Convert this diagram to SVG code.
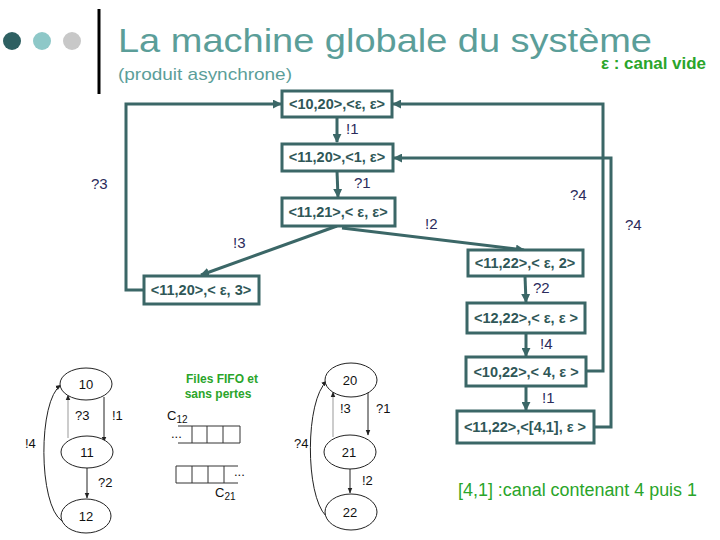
<svg xmlns="http://www.w3.org/2000/svg" width="720" height="540" viewBox="0 0 720 540">
<style>
.box{fill:#fff;stroke:#3b6767;stroke-width:3}
.bt{font-family:"Liberation Sans",Arial,sans-serif;font-weight:bold;font-size:14.5px;fill:#2f5757;text-anchor:middle}
.lbl{font-family:"Liberation Sans",Arial,sans-serif;font-size:15px;fill:#2b2b5c}
.con{fill:none;stroke:#3b6767;stroke-width:3}
.thin{fill:none;stroke:#222;stroke-width:1}
.thing{fill:none;stroke:#999;stroke-width:1}
.ell{fill:#fff;stroke:#222;stroke-width:1}
.st{font-family:"Liberation Sans",Arial,sans-serif;font-size:13px;fill:#111;text-anchor:middle}
.sl{font-family:"Liberation Sans",Arial,sans-serif;font-size:13px;fill:#111}
.grn{font-family:"Liberation Sans",Arial,sans-serif;fill:#2aa52a}
</style>
<defs>
<marker id="ah" viewBox="0 0 10 10" refX="9" refY="5" markerWidth="3" markerHeight="3" orient="auto" markerUnits="strokeWidth">
<path d="M0,0 L10,5 L0,10 z" fill="#3b6767"/>
</marker>
<marker id="as" viewBox="0 0 10 10" refX="9" refY="5" markerWidth="6" markerHeight="6" orient="auto" markerUnits="strokeWidth">
<path d="M0,1 L10,5 L0,9 z" fill="#222"/>
</marker>
</defs>
<rect width="720" height="540" fill="#fff"/>

<!-- header -->
<circle cx="12" cy="41" r="9" fill="#2e6062"/>
<circle cx="42" cy="41" r="9" fill="#8ec8c8"/>
<circle cx="72" cy="41" r="9" fill="#c8c8c8"/>
<line x1="99" y1="9" x2="99" y2="94" stroke="#000" stroke-width="3"/>
<text x="118" y="52" font-family="Liberation Sans,Arial,sans-serif" font-size="34" fill="#5b9e99" textLength="534" lengthAdjust="spacingAndGlyphs">La machine globale du système</text>
<text x="118" y="80" font-family="Liberation Sans,Arial,sans-serif" font-size="17" fill="#5b9e99" textLength="174" lengthAdjust="spacingAndGlyphs">(produit asynchrone)</text>
<text x="601" y="69" class="grn" font-size="16" font-weight="bold" textLength="105" lengthAdjust="spacingAndGlyphs">ε : canal vide</text>

<!-- connectors -->
<g id="connectors">
<path class="con" d="M144,290 H126 V104 H281" marker-end="url(#ah)"/>
<path class="con" d="M337,117 V142" marker-end="url(#ah)"/>
<path class="con" d="M337,171 L338,197" marker-end="url(#ah)"/>
<path class="con" d="M337,226 L201,275" marker-end="url(#ah)"/>
<path class="con" d="M342,228 L524,250" marker-end="url(#ah)"/>
<path class="con" d="M525,276 L526,302" marker-end="url(#ah)"/>
<path class="con" d="M526,333 V356" marker-end="url(#ah)"/>
<path class="con" d="M526,386 V410" marker-end="url(#ah)"/>
<path class="con" d="M586,371 H603 V104 H393" marker-end="url(#ah)"/>
<path class="con" d="M594,427 H611 V158 H394" marker-end="url(#ah)"/>
<text class="lbl" x="346" y="134">!1</text>
<text class="lbl" x="354" y="188">?1</text>
<text class="lbl" x="91" y="189">?3</text>
<text class="lbl" x="233" y="248">!3</text>
<text class="lbl" x="425" y="229">!2</text>
<text class="lbl" x="570" y="200">?4</text>
<text class="lbl" x="625" y="230">?4</text>
<text class="lbl" x="533" y="293">?2</text>
<text class="lbl" x="540" y="349">!4</text>
<text class="lbl" x="542" y="403">!1</text>
</g>

<g id="n1"><rect class="box" x="282" y="91" width="110" height="26"/><text class="bt" x="337" y="109">&lt;10,20&gt;,&lt;ε, ε&gt;</text></g>
<g id="n2"><rect class="box" x="282" y="144" width="111" height="27"/><text class="bt" x="337" y="162">&lt;11,20&gt;,&lt;1, ε&gt;</text></g>
<g id="n3"><rect class="box" x="282" y="198" width="113" height="28"/><text class="bt" x="338" y="217">&lt;11,21&gt;,&lt; ε, ε&gt;</text></g>
<g id="n4"><rect class="box" x="144" y="276" width="115" height="28"/><text class="bt" x="201" y="295">&lt;11,20&gt;,&lt; ε, 3&gt;</text></g>
<g id="n5"><rect class="box" x="468" y="250" width="115" height="26"/><text class="bt" x="525" y="268">&lt;11,22&gt;,&lt; ε, 2&gt;</text></g>
<g id="n6"><rect class="box" x="467" y="303" width="118" height="30"/><text class="bt" x="526" y="323">&lt;12,22&gt;,&lt; ε, ε &gt;</text></g>
<g id="n7"><rect class="box" x="466" y="357" width="120" height="29"/><text class="bt" x="526" y="377">&lt;10,22&gt;,&lt; 4, ε &gt;</text></g>
<g id="n8"><rect class="box" x="457" y="411" width="137" height="32"/><text class="bt" x="525" y="432">&lt;11,22&gt;,&lt;[4,1], ε &gt;</text></g>

<!-- automaton 1 -->
<g id="a1">
<path class="thing" d="M68,438 V395" marker-end="url(#as)"/>
<path class="thin" d="M104,397 V442" marker-end="url(#as)"/>
<path class="thin" d="M87,468 V498" marker-end="url(#as)"/>
<path class="thin" d="M62,521 C38,505 38,400 61,385" marker-end="url(#as)"/>
<ellipse class="ell" cx="86" cy="384" rx="26" ry="16"/>
<ellipse class="ell" cx="87" cy="452" rx="26" ry="16"/>
<ellipse class="ell" cx="86" cy="516" rx="25" ry="17"/>
<text class="st" x="86" y="389">10</text>
<text class="st" x="87" y="457">11</text>
<text class="st" x="86" y="521">12</text>
<text class="sl" x="75" y="420">?3</text>
<text class="sl" x="112" y="420">!1</text>
<text class="sl" x="98" y="487">?2</text>
<text class="sl" x="25" y="448">!4</text>
</g>

<!-- FIFO -->
<g id="fifo">
<text class="grn" x="222" y="383" font-size="12" font-weight="bold" fill="#44b844" text-anchor="middle">Files FIFO et</text>
<text class="grn" x="218" y="398" font-size="12" font-weight="bold" fill="#44b844" text-anchor="middle">sans pertes</text>
<text class="sl" x="167" y="420" font-size="13">C<tspan font-size="10" dy="3">12</tspan></text>
<path d="M178,426 H240 M178,443 H240 M192,426 V443 M207,426 V443 M223,426 V443 M240,426 V443" stroke="#333" stroke-width="1" fill="none"/>
<text class="sl" x="171" y="438" font-size="12">...</text>
<path d="M176,466 H238 M176,483 H238 M176,466 V483 M192,466 V483 M208,466 V483 M224,466 V483" stroke="#333" stroke-width="1" fill="none"/>
<text class="sl" x="234" y="476" font-size="12">...</text>
<text class="sl" x="215" y="497" font-size="13">C<tspan font-size="10" dy="3">21</tspan></text>
</g>

<!-- automaton 2 -->
<g id="a2">
<path class="thing" d="M333,437 V392" marker-end="url(#as)"/>
<path class="thin" d="M368,392 V435" marker-end="url(#as)"/>
<path class="thin" d="M350,468 V493" marker-end="url(#as)"/>
<path class="thin" d="M326,516 C305,495 305,400 327,381" marker-end="url(#as)"/>
<ellipse class="ell" cx="351" cy="380" rx="26" ry="17"/>
<ellipse class="ell" cx="350" cy="452" rx="26" ry="17"/>
<ellipse class="ell" cx="351" cy="512" rx="26" ry="18"/>
<text class="st" x="350" y="385">20</text>
<text class="st" x="349" y="457">21</text>
<text class="st" x="350" y="517">22</text>
<text class="sl" x="340" y="413">!3</text>
<text class="sl" x="376" y="413">?1</text>
<text class="sl" x="362" y="485">!2</text>
<text class="sl" x="294" y="448" font-size="14">?4</text>
</g>

<text class="grn" x="458" y="496" font-size="18" textLength="239" lengthAdjust="spacingAndGlyphs">[4,1] :canal contenant 4 puis 1</text>
</svg>
